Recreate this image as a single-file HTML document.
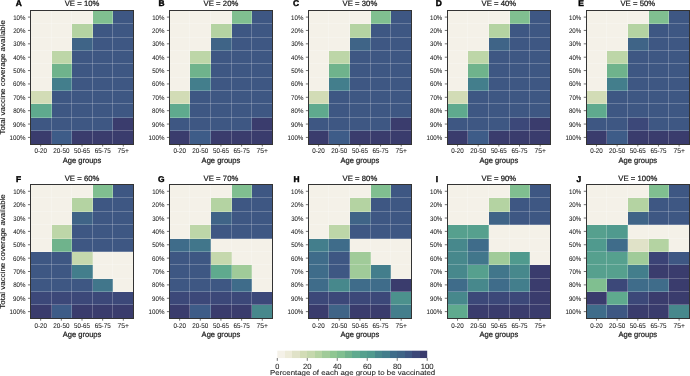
<!DOCTYPE html><html><head><meta charset="utf-8"><style>html,body{margin:0;padding:0;background:#fff;width:690px;height:376px;overflow:hidden}svg{display:block;will-change:transform;text-rendering:geometricPrecision}text{font-family:"Liberation Sans",sans-serif;fill:#1a1a1a;stroke:#1a1a1a;stroke-width:0.14}</style></head><body>
<svg width="690" height="376" viewBox="0 0 690 376">
<g shape-rendering="crispEdges"><rect x="30.50" y="10.50" width="21.00" height="13.00" fill="#f4f1e8"/><rect x="51.50" y="10.50" width="20.00" height="13.00" fill="#f4f1e8"/><rect x="71.50" y="10.50" width="21.00" height="13.00" fill="#f4f1e8"/><rect x="92.50" y="10.50" width="20.00" height="13.00" fill="#80bf90"/><rect x="112.50" y="10.50" width="21.00" height="13.00" fill="#3e5783"/><rect x="30.50" y="23.50" width="21.00" height="14.00" fill="#f4f1e8"/><rect x="51.50" y="23.50" width="20.00" height="14.00" fill="#f4f1e8"/><rect x="71.50" y="23.50" width="21.00" height="14.00" fill="#b4d3a2"/><rect x="92.50" y="23.50" width="20.00" height="14.00" fill="#3e5783"/><rect x="112.50" y="23.50" width="21.00" height="14.00" fill="#3e5783"/><rect x="30.50" y="37.50" width="21.00" height="13.00" fill="#f4f1e8"/><rect x="51.50" y="37.50" width="20.00" height="13.00" fill="#f4f1e8"/><rect x="71.50" y="37.50" width="21.00" height="13.00" fill="#3f6487"/><rect x="92.50" y="37.50" width="20.00" height="13.00" fill="#3e5783"/><rect x="112.50" y="37.50" width="21.00" height="13.00" fill="#3e5783"/><rect x="30.50" y="50.50" width="21.00" height="13.00" fill="#f4f1e8"/><rect x="51.50" y="50.50" width="20.00" height="13.00" fill="#bdd6a8"/><rect x="71.50" y="50.50" width="21.00" height="13.00" fill="#3e5783"/><rect x="92.50" y="50.50" width="20.00" height="13.00" fill="#3e5783"/><rect x="112.50" y="50.50" width="21.00" height="13.00" fill="#3e5783"/><rect x="30.50" y="63.50" width="21.00" height="14.00" fill="#f4f1e8"/><rect x="51.50" y="63.50" width="20.00" height="14.00" fill="#6fb38c"/><rect x="71.50" y="63.50" width="21.00" height="14.00" fill="#3e5783"/><rect x="92.50" y="63.50" width="20.00" height="14.00" fill="#3e5783"/><rect x="112.50" y="63.50" width="21.00" height="14.00" fill="#3e5783"/><rect x="30.50" y="77.50" width="21.00" height="13.00" fill="#f4f1e8"/><rect x="51.50" y="77.50" width="20.00" height="13.00" fill="#437e8c"/><rect x="71.50" y="77.50" width="21.00" height="13.00" fill="#3e5783"/><rect x="92.50" y="77.50" width="20.00" height="13.00" fill="#3e5783"/><rect x="112.50" y="77.50" width="21.00" height="13.00" fill="#3e5783"/><rect x="30.50" y="90.50" width="21.00" height="13.00" fill="#d2dcb6"/><rect x="51.50" y="90.50" width="20.00" height="13.00" fill="#3e5783"/><rect x="71.50" y="90.50" width="21.00" height="13.00" fill="#3e5783"/><rect x="92.50" y="90.50" width="20.00" height="13.00" fill="#3e5783"/><rect x="112.50" y="90.50" width="21.00" height="13.00" fill="#3e5783"/><rect x="30.50" y="103.50" width="21.00" height="14.00" fill="#5faa8e"/><rect x="51.50" y="103.50" width="20.00" height="14.00" fill="#3e5783"/><rect x="71.50" y="103.50" width="21.00" height="14.00" fill="#3e5783"/><rect x="92.50" y="103.50" width="20.00" height="14.00" fill="#3e5783"/><rect x="112.50" y="103.50" width="21.00" height="14.00" fill="#3e5783"/><rect x="30.50" y="117.50" width="21.00" height="13.00" fill="#3e5783"/><rect x="51.50" y="117.50" width="20.00" height="13.00" fill="#3e5783"/><rect x="71.50" y="117.50" width="21.00" height="13.00" fill="#3e5783"/><rect x="92.50" y="117.50" width="20.00" height="13.00" fill="#3e5783"/><rect x="112.50" y="117.50" width="21.00" height="13.00" fill="#3a3c6d"/><rect x="30.50" y="130.50" width="21.00" height="14.00" fill="#3a3c6d"/><rect x="51.50" y="130.50" width="20.00" height="14.00" fill="#3e5c88"/><rect x="71.50" y="130.50" width="21.00" height="14.00" fill="#3a3c6d"/><rect x="92.50" y="130.50" width="20.00" height="14.00" fill="#3a3c6d"/><rect x="112.50" y="130.50" width="21.00" height="14.00" fill="#3a3c6d"/></g>
<path d="M51.50 10.50V144.50M71.50 10.50V144.50M92.50 10.50V144.50M112.50 10.50V144.50M30.50 23.50H133.50M30.50 37.50H133.50M30.50 50.50H133.50M30.50 63.50H133.50M30.50 77.50H133.50M30.50 90.50H133.50M30.50 103.50H133.50M30.50 117.50H133.50M30.50 130.50H133.50" stroke="#fff" stroke-opacity="0.23" stroke-width="1" fill="none"/>
<rect x="30.50" y="10.50" width="103.00" height="134.00" fill="none" stroke="#333" stroke-width="1"/>
<path d="M27.95 17.09H30.35M27.95 30.45H30.35M27.95 43.82H30.35M27.95 57.19H30.35M27.95 70.56H30.35M27.95 83.94H30.35M27.95 97.31H30.35M27.95 110.67H30.35M27.95 124.05H30.35M27.95 137.41H30.35M40.68 144.10V146.50M61.34 144.10V146.50M82.00 144.10V146.50M102.66 144.10V146.50M123.32 144.10V146.50" stroke="#333" stroke-width="0.7" fill="none"/>
<text x="25.45" y="19.59" font-size="6.7" text-anchor="end" textLength="12.27" lengthAdjust="spacingAndGlyphs" style="stroke-width:0.06">10%</text>
<text x="25.45" y="32.95" font-size="6.7" text-anchor="end" textLength="12.30" lengthAdjust="spacingAndGlyphs" style="stroke-width:0.06">20%</text>
<text x="25.45" y="46.32" font-size="6.7" text-anchor="end" textLength="12.21" lengthAdjust="spacingAndGlyphs" style="stroke-width:0.06">30%</text>
<text x="25.45" y="59.69" font-size="6.7" text-anchor="end" textLength="12.26" lengthAdjust="spacingAndGlyphs" style="stroke-width:0.06">40%</text>
<text x="25.45" y="73.06" font-size="6.7" text-anchor="end" textLength="12.21" lengthAdjust="spacingAndGlyphs" style="stroke-width:0.06">50%</text>
<text x="25.45" y="86.44" font-size="6.7" text-anchor="end" textLength="12.33" lengthAdjust="spacingAndGlyphs" style="stroke-width:0.06">60%</text>
<text x="25.45" y="99.81" font-size="6.7" text-anchor="end" textLength="12.26" lengthAdjust="spacingAndGlyphs" style="stroke-width:0.06">70%</text>
<text x="25.45" y="113.17" font-size="6.7" text-anchor="end" textLength="12.29" lengthAdjust="spacingAndGlyphs" style="stroke-width:0.06">80%</text>
<text x="25.45" y="126.55" font-size="6.7" text-anchor="end" textLength="12.34" lengthAdjust="spacingAndGlyphs" style="stroke-width:0.06">90%</text>
<text x="25.45" y="139.91" font-size="6.7" text-anchor="end" textLength="15.83" lengthAdjust="spacingAndGlyphs" style="stroke-width:0.06">100%</text>
<text x="40.68" y="153.45" font-size="6.9" text-anchor="middle" textLength="12.51" lengthAdjust="spacingAndGlyphs" style="stroke-width:0.06">0-20</text>
<text x="61.34" y="153.45" font-size="6.9" text-anchor="middle" textLength="16.11" lengthAdjust="spacingAndGlyphs" style="stroke-width:0.06">20-50</text>
<text x="82.00" y="153.45" font-size="6.9" text-anchor="middle" textLength="15.92" lengthAdjust="spacingAndGlyphs" style="stroke-width:0.06">50-65</text>
<text x="102.66" y="153.45" font-size="6.9" text-anchor="middle" textLength="16.03" lengthAdjust="spacingAndGlyphs" style="stroke-width:0.06">65-75</text>
<text x="123.32" y="153.45" font-size="6.9" text-anchor="middle" textLength="11.46" lengthAdjust="spacingAndGlyphs" style="stroke-width:0.06">75+</text>
<text x="82.00" y="162.70" font-size="7.8" text-anchor="middle" textLength="38.73" lengthAdjust="spacingAndGlyphs" style="stroke-width:0.22">Age groups</text>
<text x="82.00" y="6.30" font-size="7.7" text-anchor="middle" textLength="34.71" lengthAdjust="spacing" style="stroke-width:0.24">VE = 10%</text>
<text x="15.70" y="5.80" font-size="8.4" font-weight="bold" style="fill:#000;stroke:#000;stroke-width:0.45">A</text>
<text x="0.00" y="0.00" font-size="7.2" text-anchor="middle" textLength="114.43" lengthAdjust="spacingAndGlyphs" transform="translate(5.4 77.25) rotate(-90)">Total vaccine coverage available</text>
<g shape-rendering="crispEdges"><rect x="169.50" y="10.50" width="20.00" height="13.00" fill="#f4f1e8"/><rect x="189.50" y="10.50" width="21.00" height="13.00" fill="#f4f1e8"/><rect x="210.50" y="10.50" width="21.00" height="13.00" fill="#f4f1e8"/><rect x="231.50" y="10.50" width="20.00" height="13.00" fill="#80bf90"/><rect x="251.50" y="10.50" width="21.00" height="13.00" fill="#3e5783"/><rect x="169.50" y="23.50" width="20.00" height="14.00" fill="#f4f1e8"/><rect x="189.50" y="23.50" width="21.00" height="14.00" fill="#f4f1e8"/><rect x="210.50" y="23.50" width="21.00" height="14.00" fill="#b4d3a2"/><rect x="231.50" y="23.50" width="20.00" height="14.00" fill="#3e5783"/><rect x="251.50" y="23.50" width="21.00" height="14.00" fill="#3e5783"/><rect x="169.50" y="37.50" width="20.00" height="13.00" fill="#f4f1e8"/><rect x="189.50" y="37.50" width="21.00" height="13.00" fill="#f4f1e8"/><rect x="210.50" y="37.50" width="21.00" height="13.00" fill="#3f6487"/><rect x="231.50" y="37.50" width="20.00" height="13.00" fill="#3e5783"/><rect x="251.50" y="37.50" width="21.00" height="13.00" fill="#3e5783"/><rect x="169.50" y="50.50" width="20.00" height="13.00" fill="#f4f1e8"/><rect x="189.50" y="50.50" width="21.00" height="13.00" fill="#bdd6a8"/><rect x="210.50" y="50.50" width="21.00" height="13.00" fill="#3e5783"/><rect x="231.50" y="50.50" width="20.00" height="13.00" fill="#3e5783"/><rect x="251.50" y="50.50" width="21.00" height="13.00" fill="#3e5783"/><rect x="169.50" y="63.50" width="20.00" height="14.00" fill="#f4f1e8"/><rect x="189.50" y="63.50" width="21.00" height="14.00" fill="#6fb38c"/><rect x="210.50" y="63.50" width="21.00" height="14.00" fill="#3e5783"/><rect x="231.50" y="63.50" width="20.00" height="14.00" fill="#3e5783"/><rect x="251.50" y="63.50" width="21.00" height="14.00" fill="#3e5783"/><rect x="169.50" y="77.50" width="20.00" height="13.00" fill="#f4f1e8"/><rect x="189.50" y="77.50" width="21.00" height="13.00" fill="#437e8c"/><rect x="210.50" y="77.50" width="21.00" height="13.00" fill="#3e5783"/><rect x="231.50" y="77.50" width="20.00" height="13.00" fill="#3e5783"/><rect x="251.50" y="77.50" width="21.00" height="13.00" fill="#3e5783"/><rect x="169.50" y="90.50" width="20.00" height="13.00" fill="#d2dcb6"/><rect x="189.50" y="90.50" width="21.00" height="13.00" fill="#3e5783"/><rect x="210.50" y="90.50" width="21.00" height="13.00" fill="#3e5783"/><rect x="231.50" y="90.50" width="20.00" height="13.00" fill="#3e5783"/><rect x="251.50" y="90.50" width="21.00" height="13.00" fill="#3e5783"/><rect x="169.50" y="103.50" width="20.00" height="14.00" fill="#5faa8e"/><rect x="189.50" y="103.50" width="21.00" height="14.00" fill="#3e5783"/><rect x="210.50" y="103.50" width="21.00" height="14.00" fill="#3e5783"/><rect x="231.50" y="103.50" width="20.00" height="14.00" fill="#3e5783"/><rect x="251.50" y="103.50" width="21.00" height="14.00" fill="#3e5783"/><rect x="169.50" y="117.50" width="20.00" height="13.00" fill="#3e5783"/><rect x="189.50" y="117.50" width="21.00" height="13.00" fill="#3e5783"/><rect x="210.50" y="117.50" width="21.00" height="13.00" fill="#3e5783"/><rect x="231.50" y="117.50" width="20.00" height="13.00" fill="#3e5783"/><rect x="251.50" y="117.50" width="21.00" height="13.00" fill="#3a3c6d"/><rect x="169.50" y="130.50" width="20.00" height="14.00" fill="#3a3c6d"/><rect x="189.50" y="130.50" width="21.00" height="14.00" fill="#3e5c88"/><rect x="210.50" y="130.50" width="21.00" height="14.00" fill="#3a3c6d"/><rect x="231.50" y="130.50" width="20.00" height="14.00" fill="#3a3c6d"/><rect x="251.50" y="130.50" width="21.00" height="14.00" fill="#3a3c6d"/></g>
<path d="M189.50 10.50V144.50M210.50 10.50V144.50M231.50 10.50V144.50M251.50 10.50V144.50M169.50 23.50H272.50M169.50 37.50H272.50M169.50 50.50H272.50M169.50 63.50H272.50M169.50 77.50H272.50M169.50 90.50H272.50M169.50 103.50H272.50M169.50 117.50H272.50M169.50 130.50H272.50" stroke="#fff" stroke-opacity="0.23" stroke-width="1" fill="none"/>
<rect x="169.50" y="10.50" width="103.00" height="134.00" fill="none" stroke="#333" stroke-width="1"/>
<path d="M166.90 17.09H169.30M166.90 30.45H169.30M166.90 43.82H169.30M166.90 57.19H169.30M166.90 70.56H169.30M166.90 83.94H169.30M166.90 97.31H169.30M166.90 110.67H169.30M166.90 124.05H169.30M166.90 137.41H169.30M179.63 144.10V146.50M200.29 144.10V146.50M220.95 144.10V146.50M241.61 144.10V146.50M262.27 144.10V146.50" stroke="#333" stroke-width="0.7" fill="none"/>
<text x="164.40" y="19.59" font-size="6.7" text-anchor="end" textLength="12.27" lengthAdjust="spacingAndGlyphs" style="stroke-width:0.06">10%</text>
<text x="164.40" y="32.95" font-size="6.7" text-anchor="end" textLength="12.30" lengthAdjust="spacingAndGlyphs" style="stroke-width:0.06">20%</text>
<text x="164.40" y="46.32" font-size="6.7" text-anchor="end" textLength="12.21" lengthAdjust="spacingAndGlyphs" style="stroke-width:0.06">30%</text>
<text x="164.40" y="59.69" font-size="6.7" text-anchor="end" textLength="12.26" lengthAdjust="spacingAndGlyphs" style="stroke-width:0.06">40%</text>
<text x="164.40" y="73.06" font-size="6.7" text-anchor="end" textLength="12.21" lengthAdjust="spacingAndGlyphs" style="stroke-width:0.06">50%</text>
<text x="164.40" y="86.44" font-size="6.7" text-anchor="end" textLength="12.33" lengthAdjust="spacingAndGlyphs" style="stroke-width:0.06">60%</text>
<text x="164.40" y="99.81" font-size="6.7" text-anchor="end" textLength="12.26" lengthAdjust="spacingAndGlyphs" style="stroke-width:0.06">70%</text>
<text x="164.40" y="113.17" font-size="6.7" text-anchor="end" textLength="12.29" lengthAdjust="spacingAndGlyphs" style="stroke-width:0.06">80%</text>
<text x="164.40" y="126.55" font-size="6.7" text-anchor="end" textLength="12.34" lengthAdjust="spacingAndGlyphs" style="stroke-width:0.06">90%</text>
<text x="164.40" y="139.91" font-size="6.7" text-anchor="end" textLength="15.83" lengthAdjust="spacingAndGlyphs" style="stroke-width:0.06">100%</text>
<text x="179.63" y="153.45" font-size="6.9" text-anchor="middle" textLength="12.51" lengthAdjust="spacingAndGlyphs" style="stroke-width:0.06">0-20</text>
<text x="200.29" y="153.45" font-size="6.9" text-anchor="middle" textLength="16.11" lengthAdjust="spacingAndGlyphs" style="stroke-width:0.06">20-50</text>
<text x="220.95" y="153.45" font-size="6.9" text-anchor="middle" textLength="15.92" lengthAdjust="spacingAndGlyphs" style="stroke-width:0.06">50-65</text>
<text x="241.61" y="153.45" font-size="6.9" text-anchor="middle" textLength="16.03" lengthAdjust="spacingAndGlyphs" style="stroke-width:0.06">65-75</text>
<text x="262.27" y="153.45" font-size="6.9" text-anchor="middle" textLength="11.46" lengthAdjust="spacingAndGlyphs" style="stroke-width:0.06">75+</text>
<text x="220.95" y="162.70" font-size="7.8" text-anchor="middle" textLength="38.73" lengthAdjust="spacingAndGlyphs" style="stroke-width:0.22">Age groups</text>
<text x="220.95" y="6.30" font-size="7.7" text-anchor="middle" textLength="34.71" lengthAdjust="spacing" style="stroke-width:0.24">VE = 20%</text>
<text x="158.60" y="5.80" font-size="8.4" font-weight="bold" style="fill:#000;stroke:#000;stroke-width:0.45">B</text>
<g shape-rendering="crispEdges"><rect x="308.50" y="10.50" width="20.00" height="13.00" fill="#f4f1e8"/><rect x="328.50" y="10.50" width="21.00" height="13.00" fill="#f4f1e8"/><rect x="349.50" y="10.50" width="21.00" height="13.00" fill="#f4f1e8"/><rect x="370.50" y="10.50" width="20.00" height="13.00" fill="#80bf90"/><rect x="390.50" y="10.50" width="21.00" height="13.00" fill="#3e5783"/><rect x="308.50" y="23.50" width="20.00" height="14.00" fill="#f4f1e8"/><rect x="328.50" y="23.50" width="21.00" height="14.00" fill="#f4f1e8"/><rect x="349.50" y="23.50" width="21.00" height="14.00" fill="#b4d3a2"/><rect x="370.50" y="23.50" width="20.00" height="14.00" fill="#3e5783"/><rect x="390.50" y="23.50" width="21.00" height="14.00" fill="#3e5783"/><rect x="308.50" y="37.50" width="20.00" height="13.00" fill="#f4f1e8"/><rect x="328.50" y="37.50" width="21.00" height="13.00" fill="#f4f1e8"/><rect x="349.50" y="37.50" width="21.00" height="13.00" fill="#3f6487"/><rect x="370.50" y="37.50" width="20.00" height="13.00" fill="#3e5783"/><rect x="390.50" y="37.50" width="21.00" height="13.00" fill="#3e5783"/><rect x="308.50" y="50.50" width="20.00" height="13.00" fill="#f4f1e8"/><rect x="328.50" y="50.50" width="21.00" height="13.00" fill="#bdd6a8"/><rect x="349.50" y="50.50" width="21.00" height="13.00" fill="#3e5783"/><rect x="370.50" y="50.50" width="20.00" height="13.00" fill="#3e5783"/><rect x="390.50" y="50.50" width="21.00" height="13.00" fill="#3e5783"/><rect x="308.50" y="63.50" width="20.00" height="14.00" fill="#f4f1e8"/><rect x="328.50" y="63.50" width="21.00" height="14.00" fill="#6fb38c"/><rect x="349.50" y="63.50" width="21.00" height="14.00" fill="#3e5783"/><rect x="370.50" y="63.50" width="20.00" height="14.00" fill="#3e5783"/><rect x="390.50" y="63.50" width="21.00" height="14.00" fill="#3e5783"/><rect x="308.50" y="77.50" width="20.00" height="13.00" fill="#f4f1e8"/><rect x="328.50" y="77.50" width="21.00" height="13.00" fill="#437e8c"/><rect x="349.50" y="77.50" width="21.00" height="13.00" fill="#3e5783"/><rect x="370.50" y="77.50" width="20.00" height="13.00" fill="#3e5783"/><rect x="390.50" y="77.50" width="21.00" height="13.00" fill="#3e5783"/><rect x="308.50" y="90.50" width="20.00" height="13.00" fill="#d2dcb6"/><rect x="328.50" y="90.50" width="21.00" height="13.00" fill="#3e5783"/><rect x="349.50" y="90.50" width="21.00" height="13.00" fill="#3e5783"/><rect x="370.50" y="90.50" width="20.00" height="13.00" fill="#3e5783"/><rect x="390.50" y="90.50" width="21.00" height="13.00" fill="#3e5783"/><rect x="308.50" y="103.50" width="20.00" height="14.00" fill="#5faa8e"/><rect x="328.50" y="103.50" width="21.00" height="14.00" fill="#3e5783"/><rect x="349.50" y="103.50" width="21.00" height="14.00" fill="#3e5783"/><rect x="370.50" y="103.50" width="20.00" height="14.00" fill="#3e5783"/><rect x="390.50" y="103.50" width="21.00" height="14.00" fill="#3e5783"/><rect x="308.50" y="117.50" width="20.00" height="13.00" fill="#3e5783"/><rect x="328.50" y="117.50" width="21.00" height="13.00" fill="#3e5783"/><rect x="349.50" y="117.50" width="21.00" height="13.00" fill="#3e5783"/><rect x="370.50" y="117.50" width="20.00" height="13.00" fill="#3e5783"/><rect x="390.50" y="117.50" width="21.00" height="13.00" fill="#3a3c6d"/><rect x="308.50" y="130.50" width="20.00" height="14.00" fill="#3a3c6d"/><rect x="328.50" y="130.50" width="21.00" height="14.00" fill="#3e5c88"/><rect x="349.50" y="130.50" width="21.00" height="14.00" fill="#3a3c6d"/><rect x="370.50" y="130.50" width="20.00" height="14.00" fill="#3a3c6d"/><rect x="390.50" y="130.50" width="21.00" height="14.00" fill="#3a3c6d"/></g>
<path d="M328.50 10.50V144.50M349.50 10.50V144.50M370.50 10.50V144.50M390.50 10.50V144.50M308.50 23.50H411.50M308.50 37.50H411.50M308.50 50.50H411.50M308.50 63.50H411.50M308.50 77.50H411.50M308.50 90.50H411.50M308.50 103.50H411.50M308.50 117.50H411.50M308.50 130.50H411.50" stroke="#fff" stroke-opacity="0.23" stroke-width="1" fill="none"/>
<rect x="308.50" y="10.50" width="103.00" height="134.00" fill="none" stroke="#333" stroke-width="1"/>
<path d="M305.85 17.09H308.25M305.85 30.45H308.25M305.85 43.82H308.25M305.85 57.19H308.25M305.85 70.56H308.25M305.85 83.94H308.25M305.85 97.31H308.25M305.85 110.67H308.25M305.85 124.05H308.25M305.85 137.41H308.25M318.58 144.10V146.50M339.24 144.10V146.50M359.90 144.10V146.50M380.56 144.10V146.50M401.22 144.10V146.50" stroke="#333" stroke-width="0.7" fill="none"/>
<text x="303.35" y="19.59" font-size="6.7" text-anchor="end" textLength="12.27" lengthAdjust="spacingAndGlyphs" style="stroke-width:0.06">10%</text>
<text x="303.35" y="32.95" font-size="6.7" text-anchor="end" textLength="12.30" lengthAdjust="spacingAndGlyphs" style="stroke-width:0.06">20%</text>
<text x="303.35" y="46.32" font-size="6.7" text-anchor="end" textLength="12.21" lengthAdjust="spacingAndGlyphs" style="stroke-width:0.06">30%</text>
<text x="303.35" y="59.69" font-size="6.7" text-anchor="end" textLength="12.26" lengthAdjust="spacingAndGlyphs" style="stroke-width:0.06">40%</text>
<text x="303.35" y="73.06" font-size="6.7" text-anchor="end" textLength="12.21" lengthAdjust="spacingAndGlyphs" style="stroke-width:0.06">50%</text>
<text x="303.35" y="86.44" font-size="6.7" text-anchor="end" textLength="12.33" lengthAdjust="spacingAndGlyphs" style="stroke-width:0.06">60%</text>
<text x="303.35" y="99.81" font-size="6.7" text-anchor="end" textLength="12.26" lengthAdjust="spacingAndGlyphs" style="stroke-width:0.06">70%</text>
<text x="303.35" y="113.17" font-size="6.7" text-anchor="end" textLength="12.29" lengthAdjust="spacingAndGlyphs" style="stroke-width:0.06">80%</text>
<text x="303.35" y="126.55" font-size="6.7" text-anchor="end" textLength="12.34" lengthAdjust="spacingAndGlyphs" style="stroke-width:0.06">90%</text>
<text x="303.35" y="139.91" font-size="6.7" text-anchor="end" textLength="15.83" lengthAdjust="spacingAndGlyphs" style="stroke-width:0.06">100%</text>
<text x="318.58" y="153.45" font-size="6.9" text-anchor="middle" textLength="12.51" lengthAdjust="spacingAndGlyphs" style="stroke-width:0.06">0-20</text>
<text x="339.24" y="153.45" font-size="6.9" text-anchor="middle" textLength="16.11" lengthAdjust="spacingAndGlyphs" style="stroke-width:0.06">20-50</text>
<text x="359.90" y="153.45" font-size="6.9" text-anchor="middle" textLength="15.92" lengthAdjust="spacingAndGlyphs" style="stroke-width:0.06">50-65</text>
<text x="380.56" y="153.45" font-size="6.9" text-anchor="middle" textLength="16.03" lengthAdjust="spacingAndGlyphs" style="stroke-width:0.06">65-75</text>
<text x="401.22" y="153.45" font-size="6.9" text-anchor="middle" textLength="11.46" lengthAdjust="spacingAndGlyphs" style="stroke-width:0.06">75+</text>
<text x="359.90" y="162.70" font-size="7.8" text-anchor="middle" textLength="38.73" lengthAdjust="spacingAndGlyphs" style="stroke-width:0.22">Age groups</text>
<text x="359.90" y="6.30" font-size="7.7" text-anchor="middle" textLength="34.71" lengthAdjust="spacing" style="stroke-width:0.24">VE = 30%</text>
<text x="293.00" y="5.80" font-size="8.4" font-weight="bold" style="fill:#000;stroke:#000;stroke-width:0.45">C</text>
<g shape-rendering="crispEdges"><rect x="447.50" y="10.50" width="20.00" height="13.00" fill="#f4f1e8"/><rect x="467.50" y="10.50" width="21.00" height="13.00" fill="#f4f1e8"/><rect x="488.50" y="10.50" width="21.00" height="13.00" fill="#f4f1e8"/><rect x="509.50" y="10.50" width="20.00" height="13.00" fill="#80bf90"/><rect x="529.50" y="10.50" width="21.00" height="13.00" fill="#3e5783"/><rect x="447.50" y="23.50" width="20.00" height="14.00" fill="#f4f1e8"/><rect x="467.50" y="23.50" width="21.00" height="14.00" fill="#f4f1e8"/><rect x="488.50" y="23.50" width="21.00" height="14.00" fill="#b4d3a2"/><rect x="509.50" y="23.50" width="20.00" height="14.00" fill="#3e5783"/><rect x="529.50" y="23.50" width="21.00" height="14.00" fill="#3e5783"/><rect x="447.50" y="37.50" width="20.00" height="13.00" fill="#f4f1e8"/><rect x="467.50" y="37.50" width="21.00" height="13.00" fill="#f4f1e8"/><rect x="488.50" y="37.50" width="21.00" height="13.00" fill="#3f6487"/><rect x="509.50" y="37.50" width="20.00" height="13.00" fill="#3e5783"/><rect x="529.50" y="37.50" width="21.00" height="13.00" fill="#3e5783"/><rect x="447.50" y="50.50" width="20.00" height="13.00" fill="#f4f1e8"/><rect x="467.50" y="50.50" width="21.00" height="13.00" fill="#bdd6a8"/><rect x="488.50" y="50.50" width="21.00" height="13.00" fill="#3e5783"/><rect x="509.50" y="50.50" width="20.00" height="13.00" fill="#3e5783"/><rect x="529.50" y="50.50" width="21.00" height="13.00" fill="#3e5783"/><rect x="447.50" y="63.50" width="20.00" height="14.00" fill="#f4f1e8"/><rect x="467.50" y="63.50" width="21.00" height="14.00" fill="#6fb38c"/><rect x="488.50" y="63.50" width="21.00" height="14.00" fill="#3e5783"/><rect x="509.50" y="63.50" width="20.00" height="14.00" fill="#3e5783"/><rect x="529.50" y="63.50" width="21.00" height="14.00" fill="#3e5783"/><rect x="447.50" y="77.50" width="20.00" height="13.00" fill="#f4f1e8"/><rect x="467.50" y="77.50" width="21.00" height="13.00" fill="#437e8c"/><rect x="488.50" y="77.50" width="21.00" height="13.00" fill="#3e5783"/><rect x="509.50" y="77.50" width="20.00" height="13.00" fill="#3e5783"/><rect x="529.50" y="77.50" width="21.00" height="13.00" fill="#3e5783"/><rect x="447.50" y="90.50" width="20.00" height="13.00" fill="#d2dcb6"/><rect x="467.50" y="90.50" width="21.00" height="13.00" fill="#3e5783"/><rect x="488.50" y="90.50" width="21.00" height="13.00" fill="#3e5783"/><rect x="509.50" y="90.50" width="20.00" height="13.00" fill="#3e5783"/><rect x="529.50" y="90.50" width="21.00" height="13.00" fill="#3e5783"/><rect x="447.50" y="103.50" width="20.00" height="14.00" fill="#5faa8e"/><rect x="467.50" y="103.50" width="21.00" height="14.00" fill="#3e5783"/><rect x="488.50" y="103.50" width="21.00" height="14.00" fill="#3e5783"/><rect x="509.50" y="103.50" width="20.00" height="14.00" fill="#3e5783"/><rect x="529.50" y="103.50" width="21.00" height="14.00" fill="#3e5783"/><rect x="447.50" y="117.50" width="20.00" height="13.00" fill="#3e5783"/><rect x="467.50" y="117.50" width="21.00" height="13.00" fill="#3e5783"/><rect x="488.50" y="117.50" width="21.00" height="13.00" fill="#3e5783"/><rect x="509.50" y="117.50" width="20.00" height="13.00" fill="#3c4879"/><rect x="529.50" y="117.50" width="21.00" height="13.00" fill="#3a3c6d"/><rect x="447.50" y="130.50" width="20.00" height="14.00" fill="#3a3c6d"/><rect x="467.50" y="130.50" width="21.00" height="14.00" fill="#3e5c88"/><rect x="488.50" y="130.50" width="21.00" height="14.00" fill="#3a3c6d"/><rect x="509.50" y="130.50" width="20.00" height="14.00" fill="#3a3c6d"/><rect x="529.50" y="130.50" width="21.00" height="14.00" fill="#3a3c6d"/></g>
<path d="M467.50 10.50V144.50M488.50 10.50V144.50M509.50 10.50V144.50M529.50 10.50V144.50M447.50 23.50H550.50M447.50 37.50H550.50M447.50 50.50H550.50M447.50 63.50H550.50M447.50 77.50H550.50M447.50 90.50H550.50M447.50 103.50H550.50M447.50 117.50H550.50M447.50 130.50H550.50" stroke="#fff" stroke-opacity="0.23" stroke-width="1" fill="none"/>
<rect x="447.50" y="10.50" width="103.00" height="134.00" fill="none" stroke="#333" stroke-width="1"/>
<path d="M444.80 17.09H447.20M444.80 30.45H447.20M444.80 43.82H447.20M444.80 57.19H447.20M444.80 70.56H447.20M444.80 83.94H447.20M444.80 97.31H447.20M444.80 110.67H447.20M444.80 124.05H447.20M444.80 137.41H447.20M457.53 144.10V146.50M478.19 144.10V146.50M498.85 144.10V146.50M519.51 144.10V146.50M540.17 144.10V146.50" stroke="#333" stroke-width="0.7" fill="none"/>
<text x="442.30" y="19.59" font-size="6.7" text-anchor="end" textLength="12.27" lengthAdjust="spacingAndGlyphs" style="stroke-width:0.06">10%</text>
<text x="442.30" y="32.95" font-size="6.7" text-anchor="end" textLength="12.30" lengthAdjust="spacingAndGlyphs" style="stroke-width:0.06">20%</text>
<text x="442.30" y="46.32" font-size="6.7" text-anchor="end" textLength="12.21" lengthAdjust="spacingAndGlyphs" style="stroke-width:0.06">30%</text>
<text x="442.30" y="59.69" font-size="6.7" text-anchor="end" textLength="12.26" lengthAdjust="spacingAndGlyphs" style="stroke-width:0.06">40%</text>
<text x="442.30" y="73.06" font-size="6.7" text-anchor="end" textLength="12.21" lengthAdjust="spacingAndGlyphs" style="stroke-width:0.06">50%</text>
<text x="442.30" y="86.44" font-size="6.7" text-anchor="end" textLength="12.33" lengthAdjust="spacingAndGlyphs" style="stroke-width:0.06">60%</text>
<text x="442.30" y="99.81" font-size="6.7" text-anchor="end" textLength="12.26" lengthAdjust="spacingAndGlyphs" style="stroke-width:0.06">70%</text>
<text x="442.30" y="113.17" font-size="6.7" text-anchor="end" textLength="12.29" lengthAdjust="spacingAndGlyphs" style="stroke-width:0.06">80%</text>
<text x="442.30" y="126.55" font-size="6.7" text-anchor="end" textLength="12.34" lengthAdjust="spacingAndGlyphs" style="stroke-width:0.06">90%</text>
<text x="442.30" y="139.91" font-size="6.7" text-anchor="end" textLength="15.83" lengthAdjust="spacingAndGlyphs" style="stroke-width:0.06">100%</text>
<text x="457.53" y="153.45" font-size="6.9" text-anchor="middle" textLength="12.51" lengthAdjust="spacingAndGlyphs" style="stroke-width:0.06">0-20</text>
<text x="478.19" y="153.45" font-size="6.9" text-anchor="middle" textLength="16.11" lengthAdjust="spacingAndGlyphs" style="stroke-width:0.06">20-50</text>
<text x="498.85" y="153.45" font-size="6.9" text-anchor="middle" textLength="15.92" lengthAdjust="spacingAndGlyphs" style="stroke-width:0.06">50-65</text>
<text x="519.51" y="153.45" font-size="6.9" text-anchor="middle" textLength="16.03" lengthAdjust="spacingAndGlyphs" style="stroke-width:0.06">65-75</text>
<text x="540.17" y="153.45" font-size="6.9" text-anchor="middle" textLength="11.46" lengthAdjust="spacingAndGlyphs" style="stroke-width:0.06">75+</text>
<text x="498.85" y="162.70" font-size="7.8" text-anchor="middle" textLength="38.73" lengthAdjust="spacingAndGlyphs" style="stroke-width:0.22">Age groups</text>
<text x="498.85" y="6.30" font-size="7.7" text-anchor="middle" textLength="34.71" lengthAdjust="spacing" style="stroke-width:0.24">VE = 40%</text>
<text x="435.70" y="5.80" font-size="8.4" font-weight="bold" style="fill:#000;stroke:#000;stroke-width:0.45">D</text>
<g shape-rendering="crispEdges"><rect x="586.50" y="10.50" width="20.00" height="13.00" fill="#f4f1e8"/><rect x="606.50" y="10.50" width="21.00" height="13.00" fill="#f4f1e8"/><rect x="627.50" y="10.50" width="21.00" height="13.00" fill="#f4f1e8"/><rect x="648.50" y="10.50" width="20.00" height="13.00" fill="#80bf90"/><rect x="668.50" y="10.50" width="21.00" height="13.00" fill="#3e5783"/><rect x="586.50" y="23.50" width="20.00" height="14.00" fill="#f4f1e8"/><rect x="606.50" y="23.50" width="21.00" height="14.00" fill="#f4f1e8"/><rect x="627.50" y="23.50" width="21.00" height="14.00" fill="#b4d3a2"/><rect x="648.50" y="23.50" width="20.00" height="14.00" fill="#3e5783"/><rect x="668.50" y="23.50" width="21.00" height="14.00" fill="#3e5783"/><rect x="586.50" y="37.50" width="20.00" height="13.00" fill="#f4f1e8"/><rect x="606.50" y="37.50" width="21.00" height="13.00" fill="#f4f1e8"/><rect x="627.50" y="37.50" width="21.00" height="13.00" fill="#3f6487"/><rect x="648.50" y="37.50" width="20.00" height="13.00" fill="#3e5783"/><rect x="668.50" y="37.50" width="21.00" height="13.00" fill="#3e5783"/><rect x="586.50" y="50.50" width="20.00" height="13.00" fill="#f4f1e8"/><rect x="606.50" y="50.50" width="21.00" height="13.00" fill="#bdd6a8"/><rect x="627.50" y="50.50" width="21.00" height="13.00" fill="#3e5783"/><rect x="648.50" y="50.50" width="20.00" height="13.00" fill="#3e5783"/><rect x="668.50" y="50.50" width="21.00" height="13.00" fill="#3e5783"/><rect x="586.50" y="63.50" width="20.00" height="14.00" fill="#f4f1e8"/><rect x="606.50" y="63.50" width="21.00" height="14.00" fill="#6fb38c"/><rect x="627.50" y="63.50" width="21.00" height="14.00" fill="#3e5783"/><rect x="648.50" y="63.50" width="20.00" height="14.00" fill="#3e5783"/><rect x="668.50" y="63.50" width="21.00" height="14.00" fill="#3e5783"/><rect x="586.50" y="77.50" width="20.00" height="13.00" fill="#f4f1e8"/><rect x="606.50" y="77.50" width="21.00" height="13.00" fill="#437e8c"/><rect x="627.50" y="77.50" width="21.00" height="13.00" fill="#3e5783"/><rect x="648.50" y="77.50" width="20.00" height="13.00" fill="#3e5783"/><rect x="668.50" y="77.50" width="21.00" height="13.00" fill="#3e5783"/><rect x="586.50" y="90.50" width="20.00" height="13.00" fill="#d2dcb6"/><rect x="606.50" y="90.50" width="21.00" height="13.00" fill="#3e5783"/><rect x="627.50" y="90.50" width="21.00" height="13.00" fill="#3e5783"/><rect x="648.50" y="90.50" width="20.00" height="13.00" fill="#3e5783"/><rect x="668.50" y="90.50" width="21.00" height="13.00" fill="#3e5783"/><rect x="586.50" y="103.50" width="20.00" height="14.00" fill="#5faa8e"/><rect x="606.50" y="103.50" width="21.00" height="14.00" fill="#3e5783"/><rect x="627.50" y="103.50" width="21.00" height="14.00" fill="#3e5783"/><rect x="648.50" y="103.50" width="20.00" height="14.00" fill="#3e5783"/><rect x="668.50" y="103.50" width="21.00" height="14.00" fill="#3e5783"/><rect x="586.50" y="117.50" width="20.00" height="13.00" fill="#3e5783"/><rect x="606.50" y="117.50" width="21.00" height="13.00" fill="#3e5783"/><rect x="627.50" y="117.50" width="21.00" height="13.00" fill="#3c4879"/><rect x="648.50" y="117.50" width="20.00" height="13.00" fill="#3e5783"/><rect x="668.50" y="117.50" width="21.00" height="13.00" fill="#3e5783"/><rect x="586.50" y="130.50" width="20.00" height="14.00" fill="#3a3c6d"/><rect x="606.50" y="130.50" width="21.00" height="14.00" fill="#3e5c88"/><rect x="627.50" y="130.50" width="21.00" height="14.00" fill="#3a3c6d"/><rect x="648.50" y="130.50" width="20.00" height="14.00" fill="#3a3c6d"/><rect x="668.50" y="130.50" width="21.00" height="14.00" fill="#3a3c6d"/></g>
<path d="M606.50 10.50V144.50M627.50 10.50V144.50M648.50 10.50V144.50M668.50 10.50V144.50M586.50 23.50H689.50M586.50 37.50H689.50M586.50 50.50H689.50M586.50 63.50H689.50M586.50 77.50H689.50M586.50 90.50H689.50M586.50 103.50H689.50M586.50 117.50H689.50M586.50 130.50H689.50" stroke="#fff" stroke-opacity="0.23" stroke-width="1" fill="none"/>
<rect x="586.50" y="10.50" width="103.00" height="134.00" fill="none" stroke="#333" stroke-width="1"/>
<path d="M583.75 17.09H586.15M583.75 30.45H586.15M583.75 43.82H586.15M583.75 57.19H586.15M583.75 70.56H586.15M583.75 83.94H586.15M583.75 97.31H586.15M583.75 110.67H586.15M583.75 124.05H586.15M583.75 137.41H586.15M596.48 144.10V146.50M617.14 144.10V146.50M637.80 144.10V146.50M658.46 144.10V146.50M679.12 144.10V146.50" stroke="#333" stroke-width="0.7" fill="none"/>
<text x="581.25" y="19.59" font-size="6.7" text-anchor="end" textLength="12.27" lengthAdjust="spacingAndGlyphs" style="stroke-width:0.06">10%</text>
<text x="581.25" y="32.95" font-size="6.7" text-anchor="end" textLength="12.30" lengthAdjust="spacingAndGlyphs" style="stroke-width:0.06">20%</text>
<text x="581.25" y="46.32" font-size="6.7" text-anchor="end" textLength="12.21" lengthAdjust="spacingAndGlyphs" style="stroke-width:0.06">30%</text>
<text x="581.25" y="59.69" font-size="6.7" text-anchor="end" textLength="12.26" lengthAdjust="spacingAndGlyphs" style="stroke-width:0.06">40%</text>
<text x="581.25" y="73.06" font-size="6.7" text-anchor="end" textLength="12.21" lengthAdjust="spacingAndGlyphs" style="stroke-width:0.06">50%</text>
<text x="581.25" y="86.44" font-size="6.7" text-anchor="end" textLength="12.33" lengthAdjust="spacingAndGlyphs" style="stroke-width:0.06">60%</text>
<text x="581.25" y="99.81" font-size="6.7" text-anchor="end" textLength="12.26" lengthAdjust="spacingAndGlyphs" style="stroke-width:0.06">70%</text>
<text x="581.25" y="113.17" font-size="6.7" text-anchor="end" textLength="12.29" lengthAdjust="spacingAndGlyphs" style="stroke-width:0.06">80%</text>
<text x="581.25" y="126.55" font-size="6.7" text-anchor="end" textLength="12.34" lengthAdjust="spacingAndGlyphs" style="stroke-width:0.06">90%</text>
<text x="581.25" y="139.91" font-size="6.7" text-anchor="end" textLength="15.83" lengthAdjust="spacingAndGlyphs" style="stroke-width:0.06">100%</text>
<text x="596.48" y="153.45" font-size="6.9" text-anchor="middle" textLength="12.51" lengthAdjust="spacingAndGlyphs" style="stroke-width:0.06">0-20</text>
<text x="617.14" y="153.45" font-size="6.9" text-anchor="middle" textLength="16.11" lengthAdjust="spacingAndGlyphs" style="stroke-width:0.06">20-50</text>
<text x="637.80" y="153.45" font-size="6.9" text-anchor="middle" textLength="15.92" lengthAdjust="spacingAndGlyphs" style="stroke-width:0.06">50-65</text>
<text x="658.46" y="153.45" font-size="6.9" text-anchor="middle" textLength="16.03" lengthAdjust="spacingAndGlyphs" style="stroke-width:0.06">65-75</text>
<text x="679.12" y="153.45" font-size="6.9" text-anchor="middle" textLength="11.46" lengthAdjust="spacingAndGlyphs" style="stroke-width:0.06">75+</text>
<text x="637.80" y="162.70" font-size="7.8" text-anchor="middle" textLength="38.73" lengthAdjust="spacingAndGlyphs" style="stroke-width:0.22">Age groups</text>
<text x="637.80" y="6.30" font-size="7.7" text-anchor="middle" textLength="34.71" lengthAdjust="spacing" style="stroke-width:0.24">VE = 50%</text>
<text x="578.20" y="5.80" font-size="8.4" font-weight="bold" style="fill:#000;stroke:#000;stroke-width:0.45">E</text>
<g shape-rendering="crispEdges"><rect x="30.50" y="184.50" width="21.00" height="13.00" fill="#f4f1e8"/><rect x="51.50" y="184.50" width="20.00" height="13.00" fill="#f4f1e8"/><rect x="71.50" y="184.50" width="21.00" height="13.00" fill="#f4f1e8"/><rect x="92.50" y="184.50" width="20.00" height="13.00" fill="#80bf90"/><rect x="112.50" y="184.50" width="21.00" height="13.00" fill="#3e5783"/><rect x="30.50" y="197.50" width="21.00" height="14.00" fill="#f4f1e8"/><rect x="51.50" y="197.50" width="20.00" height="14.00" fill="#f4f1e8"/><rect x="71.50" y="197.50" width="21.00" height="14.00" fill="#b4d3a2"/><rect x="92.50" y="197.50" width="20.00" height="14.00" fill="#3e5783"/><rect x="112.50" y="197.50" width="21.00" height="14.00" fill="#3e5783"/><rect x="30.50" y="211.50" width="21.00" height="13.00" fill="#f4f1e8"/><rect x="51.50" y="211.50" width="20.00" height="13.00" fill="#f4f1e8"/><rect x="71.50" y="211.50" width="21.00" height="13.00" fill="#3f6487"/><rect x="92.50" y="211.50" width="20.00" height="13.00" fill="#3e5783"/><rect x="112.50" y="211.50" width="21.00" height="13.00" fill="#3e5783"/><rect x="30.50" y="224.50" width="21.00" height="14.00" fill="#f4f1e8"/><rect x="51.50" y="224.50" width="20.00" height="14.00" fill="#bdd6a8"/><rect x="71.50" y="224.50" width="21.00" height="14.00" fill="#3e5783"/><rect x="92.50" y="224.50" width="20.00" height="14.00" fill="#3e5783"/><rect x="112.50" y="224.50" width="21.00" height="14.00" fill="#3e5783"/><rect x="30.50" y="238.50" width="21.00" height="13.00" fill="#f4f1e8"/><rect x="51.50" y="238.50" width="20.00" height="13.00" fill="#6fb38c"/><rect x="71.50" y="238.50" width="21.00" height="13.00" fill="#3e5783"/><rect x="92.50" y="238.50" width="20.00" height="13.00" fill="#3e5783"/><rect x="112.50" y="238.50" width="21.00" height="13.00" fill="#3e5783"/><rect x="30.50" y="251.50" width="21.00" height="13.00" fill="#3e5783"/><rect x="51.50" y="251.50" width="20.00" height="13.00" fill="#3e5783"/><rect x="71.50" y="251.50" width="21.00" height="13.00" fill="#c5d8ad"/><rect x="92.50" y="251.50" width="20.00" height="13.00" fill="#f4f1e8"/><rect x="112.50" y="251.50" width="21.00" height="13.00" fill="#f4f1e8"/><rect x="30.50" y="264.50" width="21.00" height="14.00" fill="#3e5783"/><rect x="51.50" y="264.50" width="20.00" height="14.00" fill="#3e5783"/><rect x="71.50" y="264.50" width="21.00" height="14.00" fill="#437e8c"/><rect x="92.50" y="264.50" width="20.00" height="14.00" fill="#f4f1e8"/><rect x="112.50" y="264.50" width="21.00" height="14.00" fill="#f4f1e8"/><rect x="30.50" y="278.50" width="21.00" height="13.00" fill="#3e5783"/><rect x="51.50" y="278.50" width="20.00" height="13.00" fill="#3e5783"/><rect x="71.50" y="278.50" width="21.00" height="13.00" fill="#3e5783"/><rect x="92.50" y="278.50" width="20.00" height="13.00" fill="#41768b"/><rect x="112.50" y="278.50" width="21.00" height="13.00" fill="#f4f1e8"/><rect x="30.50" y="291.50" width="21.00" height="13.00" fill="#3c4879"/><rect x="51.50" y="291.50" width="20.00" height="13.00" fill="#3c4879"/><rect x="71.50" y="291.50" width="21.00" height="13.00" fill="#3c4879"/><rect x="92.50" y="291.50" width="20.00" height="13.00" fill="#3c4879"/><rect x="112.50" y="291.50" width="21.00" height="13.00" fill="#3c4879"/><rect x="30.50" y="304.50" width="21.00" height="14.00" fill="#3a3c6d"/><rect x="51.50" y="304.50" width="20.00" height="14.00" fill="#3e5c88"/><rect x="71.50" y="304.50" width="21.00" height="14.00" fill="#3a3c6d"/><rect x="92.50" y="304.50" width="20.00" height="14.00" fill="#3a3c6d"/><rect x="112.50" y="304.50" width="21.00" height="14.00" fill="#3a3c6d"/></g>
<path d="M51.50 184.50V318.50M71.50 184.50V318.50M92.50 184.50V318.50M112.50 184.50V318.50M30.50 197.50H133.50M30.50 211.50H133.50M30.50 224.50H133.50M30.50 238.50H133.50M30.50 251.50H133.50M30.50 264.50H133.50M30.50 278.50H133.50M30.50 291.50H133.50M30.50 304.50H133.50" stroke="#fff" stroke-opacity="0.23" stroke-width="1" fill="none"/>
<rect x="30.50" y="184.50" width="103.00" height="134.00" fill="none" stroke="#333" stroke-width="1"/>
<path d="M27.95 191.28H30.35M27.95 204.66H30.35M27.95 218.02H30.35M27.95 231.39H30.35M27.95 244.76H30.35M27.95 258.13H30.35M27.95 271.50H30.35M27.95 284.88H30.35M27.95 298.25H30.35M27.95 311.62H30.35M40.68 318.30V320.70M61.34 318.30V320.70M82.00 318.30V320.70M102.66 318.30V320.70M123.32 318.30V320.70" stroke="#333" stroke-width="0.7" fill="none"/>
<text x="25.45" y="193.78" font-size="6.7" text-anchor="end" textLength="12.27" lengthAdjust="spacingAndGlyphs" style="stroke-width:0.06">10%</text>
<text x="25.45" y="207.16" font-size="6.7" text-anchor="end" textLength="12.30" lengthAdjust="spacingAndGlyphs" style="stroke-width:0.06">20%</text>
<text x="25.45" y="220.52" font-size="6.7" text-anchor="end" textLength="12.21" lengthAdjust="spacingAndGlyphs" style="stroke-width:0.06">30%</text>
<text x="25.45" y="233.89" font-size="6.7" text-anchor="end" textLength="12.26" lengthAdjust="spacingAndGlyphs" style="stroke-width:0.06">40%</text>
<text x="25.45" y="247.26" font-size="6.7" text-anchor="end" textLength="12.21" lengthAdjust="spacingAndGlyphs" style="stroke-width:0.06">50%</text>
<text x="25.45" y="260.63" font-size="6.7" text-anchor="end" textLength="12.33" lengthAdjust="spacingAndGlyphs" style="stroke-width:0.06">60%</text>
<text x="25.45" y="274.00" font-size="6.7" text-anchor="end" textLength="12.26" lengthAdjust="spacingAndGlyphs" style="stroke-width:0.06">70%</text>
<text x="25.45" y="287.38" font-size="6.7" text-anchor="end" textLength="12.29" lengthAdjust="spacingAndGlyphs" style="stroke-width:0.06">80%</text>
<text x="25.45" y="300.75" font-size="6.7" text-anchor="end" textLength="12.34" lengthAdjust="spacingAndGlyphs" style="stroke-width:0.06">90%</text>
<text x="25.45" y="314.12" font-size="6.7" text-anchor="end" textLength="15.83" lengthAdjust="spacingAndGlyphs" style="stroke-width:0.06">100%</text>
<text x="40.68" y="327.65" font-size="6.9" text-anchor="middle" textLength="12.51" lengthAdjust="spacingAndGlyphs" style="stroke-width:0.06">0-20</text>
<text x="61.34" y="327.65" font-size="6.9" text-anchor="middle" textLength="16.11" lengthAdjust="spacingAndGlyphs" style="stroke-width:0.06">20-50</text>
<text x="82.00" y="327.65" font-size="6.9" text-anchor="middle" textLength="15.92" lengthAdjust="spacingAndGlyphs" style="stroke-width:0.06">50-65</text>
<text x="102.66" y="327.65" font-size="6.9" text-anchor="middle" textLength="16.03" lengthAdjust="spacingAndGlyphs" style="stroke-width:0.06">65-75</text>
<text x="123.32" y="327.65" font-size="6.9" text-anchor="middle" textLength="11.46" lengthAdjust="spacingAndGlyphs" style="stroke-width:0.06">75+</text>
<text x="82.00" y="336.90" font-size="7.8" text-anchor="middle" textLength="38.73" lengthAdjust="spacingAndGlyphs" style="stroke-width:0.22">Age groups</text>
<text x="82.00" y="180.50" font-size="7.7" text-anchor="middle" textLength="34.71" lengthAdjust="spacing" style="stroke-width:0.24">VE = 60%</text>
<text x="16.00" y="181.80" font-size="8.4" font-weight="bold" style="fill:#000;stroke:#000;stroke-width:0.45">F</text>
<text x="0.00" y="0.00" font-size="7.2" text-anchor="middle" textLength="114.43" lengthAdjust="spacingAndGlyphs" transform="translate(5.4 251.45) rotate(-90)">Total vaccine coverage available</text>
<g shape-rendering="crispEdges"><rect x="169.50" y="184.50" width="20.00" height="13.00" fill="#f4f1e8"/><rect x="189.50" y="184.50" width="21.00" height="13.00" fill="#f4f1e8"/><rect x="210.50" y="184.50" width="21.00" height="13.00" fill="#f4f1e8"/><rect x="231.50" y="184.50" width="20.00" height="13.00" fill="#80bf90"/><rect x="251.50" y="184.50" width="21.00" height="13.00" fill="#3e5783"/><rect x="169.50" y="197.50" width="20.00" height="14.00" fill="#f4f1e8"/><rect x="189.50" y="197.50" width="21.00" height="14.00" fill="#f4f1e8"/><rect x="210.50" y="197.50" width="21.00" height="14.00" fill="#b4d3a2"/><rect x="231.50" y="197.50" width="20.00" height="14.00" fill="#3e5783"/><rect x="251.50" y="197.50" width="21.00" height="14.00" fill="#3e5783"/><rect x="169.50" y="211.50" width="20.00" height="13.00" fill="#f4f1e8"/><rect x="189.50" y="211.50" width="21.00" height="13.00" fill="#f4f1e8"/><rect x="210.50" y="211.50" width="21.00" height="13.00" fill="#3f6487"/><rect x="231.50" y="211.50" width="20.00" height="13.00" fill="#3e5783"/><rect x="251.50" y="211.50" width="21.00" height="13.00" fill="#3e5783"/><rect x="169.50" y="224.50" width="20.00" height="14.00" fill="#f4f1e8"/><rect x="189.50" y="224.50" width="21.00" height="14.00" fill="#bdd6a8"/><rect x="210.50" y="224.50" width="21.00" height="14.00" fill="#3e5783"/><rect x="231.50" y="224.50" width="20.00" height="14.00" fill="#3e5783"/><rect x="251.50" y="224.50" width="21.00" height="14.00" fill="#3e5783"/><rect x="169.50" y="238.50" width="20.00" height="13.00" fill="#3f6c8a"/><rect x="189.50" y="238.50" width="21.00" height="13.00" fill="#41768b"/><rect x="210.50" y="238.50" width="21.00" height="13.00" fill="#f4f1e8"/><rect x="231.50" y="238.50" width="20.00" height="13.00" fill="#f4f1e8"/><rect x="251.50" y="238.50" width="21.00" height="13.00" fill="#f4f1e8"/><rect x="169.50" y="251.50" width="20.00" height="13.00" fill="#3e5783"/><rect x="189.50" y="251.50" width="21.00" height="13.00" fill="#3e5783"/><rect x="210.50" y="251.50" width="21.00" height="13.00" fill="#c5d8ad"/><rect x="231.50" y="251.50" width="20.00" height="13.00" fill="#f4f1e8"/><rect x="251.50" y="251.50" width="21.00" height="13.00" fill="#f4f1e8"/><rect x="169.50" y="264.50" width="20.00" height="14.00" fill="#3e5783"/><rect x="189.50" y="264.50" width="21.00" height="14.00" fill="#3e5783"/><rect x="210.50" y="264.50" width="21.00" height="14.00" fill="#5faa8e"/><rect x="231.50" y="264.50" width="20.00" height="14.00" fill="#a0cb99"/><rect x="251.50" y="264.50" width="21.00" height="14.00" fill="#f4f1e8"/><rect x="169.50" y="278.50" width="20.00" height="13.00" fill="#3e5783"/><rect x="189.50" y="278.50" width="21.00" height="13.00" fill="#3e5783"/><rect x="210.50" y="278.50" width="21.00" height="13.00" fill="#3e5783"/><rect x="231.50" y="278.50" width="20.00" height="13.00" fill="#3f6c8a"/><rect x="251.50" y="278.50" width="21.00" height="13.00" fill="#f4f1e8"/><rect x="169.50" y="291.50" width="20.00" height="13.00" fill="#3c4879"/><rect x="189.50" y="291.50" width="21.00" height="13.00" fill="#3c4879"/><rect x="210.50" y="291.50" width="21.00" height="13.00" fill="#3c4879"/><rect x="231.50" y="291.50" width="20.00" height="13.00" fill="#3c4879"/><rect x="251.50" y="291.50" width="21.00" height="13.00" fill="#3c4879"/><rect x="169.50" y="304.50" width="20.00" height="14.00" fill="#3a3c6d"/><rect x="189.50" y="304.50" width="21.00" height="14.00" fill="#3e5c88"/><rect x="210.50" y="304.50" width="21.00" height="14.00" fill="#3a3c6d"/><rect x="231.50" y="304.50" width="20.00" height="14.00" fill="#3a3c6d"/><rect x="251.50" y="304.50" width="21.00" height="14.00" fill="#47888c"/></g>
<path d="M189.50 184.50V318.50M210.50 184.50V318.50M231.50 184.50V318.50M251.50 184.50V318.50M169.50 197.50H272.50M169.50 211.50H272.50M169.50 224.50H272.50M169.50 238.50H272.50M169.50 251.50H272.50M169.50 264.50H272.50M169.50 278.50H272.50M169.50 291.50H272.50M169.50 304.50H272.50" stroke="#fff" stroke-opacity="0.23" stroke-width="1" fill="none"/>
<rect x="169.50" y="184.50" width="103.00" height="134.00" fill="none" stroke="#333" stroke-width="1"/>
<path d="M166.90 191.28H169.30M166.90 204.66H169.30M166.90 218.02H169.30M166.90 231.39H169.30M166.90 244.76H169.30M166.90 258.13H169.30M166.90 271.50H169.30M166.90 284.88H169.30M166.90 298.25H169.30M166.90 311.62H169.30M179.63 318.30V320.70M200.29 318.30V320.70M220.95 318.30V320.70M241.61 318.30V320.70M262.27 318.30V320.70" stroke="#333" stroke-width="0.7" fill="none"/>
<text x="164.40" y="193.78" font-size="6.7" text-anchor="end" textLength="12.27" lengthAdjust="spacingAndGlyphs" style="stroke-width:0.06">10%</text>
<text x="164.40" y="207.16" font-size="6.7" text-anchor="end" textLength="12.30" lengthAdjust="spacingAndGlyphs" style="stroke-width:0.06">20%</text>
<text x="164.40" y="220.52" font-size="6.7" text-anchor="end" textLength="12.21" lengthAdjust="spacingAndGlyphs" style="stroke-width:0.06">30%</text>
<text x="164.40" y="233.89" font-size="6.7" text-anchor="end" textLength="12.26" lengthAdjust="spacingAndGlyphs" style="stroke-width:0.06">40%</text>
<text x="164.40" y="247.26" font-size="6.7" text-anchor="end" textLength="12.21" lengthAdjust="spacingAndGlyphs" style="stroke-width:0.06">50%</text>
<text x="164.40" y="260.63" font-size="6.7" text-anchor="end" textLength="12.33" lengthAdjust="spacingAndGlyphs" style="stroke-width:0.06">60%</text>
<text x="164.40" y="274.00" font-size="6.7" text-anchor="end" textLength="12.26" lengthAdjust="spacingAndGlyphs" style="stroke-width:0.06">70%</text>
<text x="164.40" y="287.38" font-size="6.7" text-anchor="end" textLength="12.29" lengthAdjust="spacingAndGlyphs" style="stroke-width:0.06">80%</text>
<text x="164.40" y="300.75" font-size="6.7" text-anchor="end" textLength="12.34" lengthAdjust="spacingAndGlyphs" style="stroke-width:0.06">90%</text>
<text x="164.40" y="314.12" font-size="6.7" text-anchor="end" textLength="15.83" lengthAdjust="spacingAndGlyphs" style="stroke-width:0.06">100%</text>
<text x="179.63" y="327.65" font-size="6.9" text-anchor="middle" textLength="12.51" lengthAdjust="spacingAndGlyphs" style="stroke-width:0.06">0-20</text>
<text x="200.29" y="327.65" font-size="6.9" text-anchor="middle" textLength="16.11" lengthAdjust="spacingAndGlyphs" style="stroke-width:0.06">20-50</text>
<text x="220.95" y="327.65" font-size="6.9" text-anchor="middle" textLength="15.92" lengthAdjust="spacingAndGlyphs" style="stroke-width:0.06">50-65</text>
<text x="241.61" y="327.65" font-size="6.9" text-anchor="middle" textLength="16.03" lengthAdjust="spacingAndGlyphs" style="stroke-width:0.06">65-75</text>
<text x="262.27" y="327.65" font-size="6.9" text-anchor="middle" textLength="11.46" lengthAdjust="spacingAndGlyphs" style="stroke-width:0.06">75+</text>
<text x="220.95" y="336.90" font-size="7.8" text-anchor="middle" textLength="38.73" lengthAdjust="spacingAndGlyphs" style="stroke-width:0.22">Age groups</text>
<text x="220.95" y="180.50" font-size="7.7" text-anchor="middle" textLength="34.71" lengthAdjust="spacing" style="stroke-width:0.24">VE = 70%</text>
<text x="158.00" y="181.80" font-size="8.4" font-weight="bold" style="fill:#000;stroke:#000;stroke-width:0.45">G</text>
<g shape-rendering="crispEdges"><rect x="308.50" y="184.50" width="20.00" height="13.00" fill="#f4f1e8"/><rect x="328.50" y="184.50" width="21.00" height="13.00" fill="#f4f1e8"/><rect x="349.50" y="184.50" width="21.00" height="13.00" fill="#f4f1e8"/><rect x="370.50" y="184.50" width="20.00" height="13.00" fill="#80bf90"/><rect x="390.50" y="184.50" width="21.00" height="13.00" fill="#3e5783"/><rect x="308.50" y="197.50" width="20.00" height="14.00" fill="#f4f1e8"/><rect x="328.50" y="197.50" width="21.00" height="14.00" fill="#f4f1e8"/><rect x="349.50" y="197.50" width="21.00" height="14.00" fill="#b4d3a2"/><rect x="370.50" y="197.50" width="20.00" height="14.00" fill="#3e5783"/><rect x="390.50" y="197.50" width="21.00" height="14.00" fill="#3e5783"/><rect x="308.50" y="211.50" width="20.00" height="13.00" fill="#f4f1e8"/><rect x="328.50" y="211.50" width="21.00" height="13.00" fill="#f4f1e8"/><rect x="349.50" y="211.50" width="21.00" height="13.00" fill="#3f6487"/><rect x="370.50" y="211.50" width="20.00" height="13.00" fill="#3e5783"/><rect x="390.50" y="211.50" width="21.00" height="13.00" fill="#3e5783"/><rect x="308.50" y="224.50" width="20.00" height="14.00" fill="#f4f1e8"/><rect x="328.50" y="224.50" width="21.00" height="14.00" fill="#bdd6a8"/><rect x="349.50" y="224.50" width="21.00" height="14.00" fill="#3e5783"/><rect x="370.50" y="224.50" width="20.00" height="14.00" fill="#3e5783"/><rect x="390.50" y="224.50" width="21.00" height="14.00" fill="#3e5783"/><rect x="308.50" y="238.50" width="20.00" height="13.00" fill="#437e8c"/><rect x="328.50" y="238.50" width="21.00" height="13.00" fill="#3f6c8a"/><rect x="349.50" y="238.50" width="21.00" height="13.00" fill="#f4f1e8"/><rect x="370.50" y="238.50" width="20.00" height="13.00" fill="#f4f1e8"/><rect x="390.50" y="238.50" width="21.00" height="13.00" fill="#f4f1e8"/><rect x="308.50" y="251.50" width="20.00" height="13.00" fill="#3f6c8a"/><rect x="328.50" y="251.50" width="21.00" height="13.00" fill="#3e5783"/><rect x="349.50" y="251.50" width="21.00" height="13.00" fill="#a0cb99"/><rect x="370.50" y="251.50" width="20.00" height="13.00" fill="#f4f1e8"/><rect x="390.50" y="251.50" width="21.00" height="13.00" fill="#f4f1e8"/><rect x="308.50" y="264.50" width="20.00" height="14.00" fill="#3f6c8a"/><rect x="328.50" y="264.50" width="21.00" height="14.00" fill="#3e5783"/><rect x="349.50" y="264.50" width="21.00" height="14.00" fill="#a0cb99"/><rect x="370.50" y="264.50" width="20.00" height="14.00" fill="#437e8c"/><rect x="390.50" y="264.50" width="21.00" height="14.00" fill="#f4f1e8"/><rect x="308.50" y="278.50" width="20.00" height="13.00" fill="#3f6c8a"/><rect x="328.50" y="278.50" width="21.00" height="13.00" fill="#47888c"/><rect x="349.50" y="278.50" width="21.00" height="13.00" fill="#3f6c8a"/><rect x="370.50" y="278.50" width="20.00" height="13.00" fill="#3f6c8a"/><rect x="390.50" y="278.50" width="21.00" height="13.00" fill="#3a3c6d"/><rect x="308.50" y="291.50" width="20.00" height="13.00" fill="#3c4879"/><rect x="328.50" y="291.50" width="21.00" height="13.00" fill="#3c4879"/><rect x="349.50" y="291.50" width="21.00" height="13.00" fill="#3c4879"/><rect x="370.50" y="291.50" width="20.00" height="13.00" fill="#3c4879"/><rect x="390.50" y="291.50" width="21.00" height="13.00" fill="#4c918d"/><rect x="308.50" y="304.50" width="20.00" height="14.00" fill="#3a3c6d"/><rect x="328.50" y="304.50" width="21.00" height="14.00" fill="#3f6487"/><rect x="349.50" y="304.50" width="21.00" height="14.00" fill="#3a3c6d"/><rect x="370.50" y="304.50" width="20.00" height="14.00" fill="#3a3c6d"/><rect x="390.50" y="304.50" width="21.00" height="14.00" fill="#437e8c"/></g>
<path d="M328.50 184.50V318.50M349.50 184.50V318.50M370.50 184.50V318.50M390.50 184.50V318.50M308.50 197.50H411.50M308.50 211.50H411.50M308.50 224.50H411.50M308.50 238.50H411.50M308.50 251.50H411.50M308.50 264.50H411.50M308.50 278.50H411.50M308.50 291.50H411.50M308.50 304.50H411.50" stroke="#fff" stroke-opacity="0.23" stroke-width="1" fill="none"/>
<rect x="308.50" y="184.50" width="103.00" height="134.00" fill="none" stroke="#333" stroke-width="1"/>
<path d="M305.85 191.28H308.25M305.85 204.66H308.25M305.85 218.02H308.25M305.85 231.39H308.25M305.85 244.76H308.25M305.85 258.13H308.25M305.85 271.50H308.25M305.85 284.88H308.25M305.85 298.25H308.25M305.85 311.62H308.25M318.58 318.30V320.70M339.24 318.30V320.70M359.90 318.30V320.70M380.56 318.30V320.70M401.22 318.30V320.70" stroke="#333" stroke-width="0.7" fill="none"/>
<text x="303.35" y="193.78" font-size="6.7" text-anchor="end" textLength="12.27" lengthAdjust="spacingAndGlyphs" style="stroke-width:0.06">10%</text>
<text x="303.35" y="207.16" font-size="6.7" text-anchor="end" textLength="12.30" lengthAdjust="spacingAndGlyphs" style="stroke-width:0.06">20%</text>
<text x="303.35" y="220.52" font-size="6.7" text-anchor="end" textLength="12.21" lengthAdjust="spacingAndGlyphs" style="stroke-width:0.06">30%</text>
<text x="303.35" y="233.89" font-size="6.7" text-anchor="end" textLength="12.26" lengthAdjust="spacingAndGlyphs" style="stroke-width:0.06">40%</text>
<text x="303.35" y="247.26" font-size="6.7" text-anchor="end" textLength="12.21" lengthAdjust="spacingAndGlyphs" style="stroke-width:0.06">50%</text>
<text x="303.35" y="260.63" font-size="6.7" text-anchor="end" textLength="12.33" lengthAdjust="spacingAndGlyphs" style="stroke-width:0.06">60%</text>
<text x="303.35" y="274.00" font-size="6.7" text-anchor="end" textLength="12.26" lengthAdjust="spacingAndGlyphs" style="stroke-width:0.06">70%</text>
<text x="303.35" y="287.38" font-size="6.7" text-anchor="end" textLength="12.29" lengthAdjust="spacingAndGlyphs" style="stroke-width:0.06">80%</text>
<text x="303.35" y="300.75" font-size="6.7" text-anchor="end" textLength="12.34" lengthAdjust="spacingAndGlyphs" style="stroke-width:0.06">90%</text>
<text x="303.35" y="314.12" font-size="6.7" text-anchor="end" textLength="15.83" lengthAdjust="spacingAndGlyphs" style="stroke-width:0.06">100%</text>
<text x="318.58" y="327.65" font-size="6.9" text-anchor="middle" textLength="12.51" lengthAdjust="spacingAndGlyphs" style="stroke-width:0.06">0-20</text>
<text x="339.24" y="327.65" font-size="6.9" text-anchor="middle" textLength="16.11" lengthAdjust="spacingAndGlyphs" style="stroke-width:0.06">20-50</text>
<text x="359.90" y="327.65" font-size="6.9" text-anchor="middle" textLength="15.92" lengthAdjust="spacingAndGlyphs" style="stroke-width:0.06">50-65</text>
<text x="380.56" y="327.65" font-size="6.9" text-anchor="middle" textLength="16.03" lengthAdjust="spacingAndGlyphs" style="stroke-width:0.06">65-75</text>
<text x="401.22" y="327.65" font-size="6.9" text-anchor="middle" textLength="11.46" lengthAdjust="spacingAndGlyphs" style="stroke-width:0.06">75+</text>
<text x="359.90" y="336.90" font-size="7.8" text-anchor="middle" textLength="38.73" lengthAdjust="spacingAndGlyphs" style="stroke-width:0.22">Age groups</text>
<text x="359.90" y="180.50" font-size="7.7" text-anchor="middle" textLength="34.71" lengthAdjust="spacing" style="stroke-width:0.24">VE = 80%</text>
<text x="293.40" y="181.80" font-size="8.4" font-weight="bold" style="fill:#000;stroke:#000;stroke-width:0.45">H</text>
<g shape-rendering="crispEdges"><rect x="447.50" y="184.50" width="20.00" height="13.00" fill="#f4f1e8"/><rect x="467.50" y="184.50" width="21.00" height="13.00" fill="#f4f1e8"/><rect x="488.50" y="184.50" width="21.00" height="13.00" fill="#f4f1e8"/><rect x="509.50" y="184.50" width="20.00" height="13.00" fill="#80bf90"/><rect x="529.50" y="184.50" width="21.00" height="13.00" fill="#3e5783"/><rect x="447.50" y="197.50" width="20.00" height="14.00" fill="#f4f1e8"/><rect x="467.50" y="197.50" width="21.00" height="14.00" fill="#f4f1e8"/><rect x="488.50" y="197.50" width="21.00" height="14.00" fill="#b4d3a2"/><rect x="509.50" y="197.50" width="20.00" height="14.00" fill="#3e5783"/><rect x="529.50" y="197.50" width="21.00" height="14.00" fill="#3e5783"/><rect x="447.50" y="211.50" width="20.00" height="13.00" fill="#f4f1e8"/><rect x="467.50" y="211.50" width="21.00" height="13.00" fill="#f4f1e8"/><rect x="488.50" y="211.50" width="21.00" height="13.00" fill="#3f6487"/><rect x="509.50" y="211.50" width="20.00" height="13.00" fill="#3e5783"/><rect x="529.50" y="211.50" width="21.00" height="13.00" fill="#3e5783"/><rect x="447.50" y="224.50" width="20.00" height="14.00" fill="#56a08e"/><rect x="467.50" y="224.50" width="21.00" height="14.00" fill="#56a08e"/><rect x="488.50" y="224.50" width="21.00" height="14.00" fill="#f4f1e8"/><rect x="509.50" y="224.50" width="20.00" height="14.00" fill="#f4f1e8"/><rect x="529.50" y="224.50" width="21.00" height="14.00" fill="#f4f1e8"/><rect x="447.50" y="238.50" width="20.00" height="13.00" fill="#47888c"/><rect x="467.50" y="238.50" width="21.00" height="13.00" fill="#3f6c8a"/><rect x="488.50" y="238.50" width="21.00" height="13.00" fill="#f4f1e8"/><rect x="509.50" y="238.50" width="20.00" height="13.00" fill="#f4f1e8"/><rect x="529.50" y="238.50" width="21.00" height="13.00" fill="#f4f1e8"/><rect x="447.50" y="251.50" width="20.00" height="13.00" fill="#47888c"/><rect x="467.50" y="251.50" width="21.00" height="13.00" fill="#41768b"/><rect x="488.50" y="251.50" width="21.00" height="13.00" fill="#a0cb99"/><rect x="509.50" y="251.50" width="20.00" height="13.00" fill="#509a8e"/><rect x="529.50" y="251.50" width="21.00" height="13.00" fill="#f4f1e8"/><rect x="447.50" y="264.50" width="20.00" height="14.00" fill="#47888c"/><rect x="467.50" y="264.50" width="21.00" height="14.00" fill="#56a08e"/><rect x="488.50" y="264.50" width="21.00" height="14.00" fill="#41768b"/><rect x="509.50" y="264.50" width="20.00" height="14.00" fill="#47888c"/><rect x="529.50" y="264.50" width="21.00" height="14.00" fill="#3a3c6d"/><rect x="447.50" y="278.50" width="20.00" height="13.00" fill="#3f6c8a"/><rect x="467.50" y="278.50" width="21.00" height="13.00" fill="#47888c"/><rect x="488.50" y="278.50" width="21.00" height="13.00" fill="#3f6c8a"/><rect x="509.50" y="278.50" width="20.00" height="13.00" fill="#437e8c"/><rect x="529.50" y="278.50" width="21.00" height="13.00" fill="#3a3c6d"/><rect x="447.50" y="291.50" width="20.00" height="13.00" fill="#47888c"/><rect x="467.50" y="291.50" width="21.00" height="13.00" fill="#3c4879"/><rect x="488.50" y="291.50" width="21.00" height="13.00" fill="#3c4879"/><rect x="509.50" y="291.50" width="20.00" height="13.00" fill="#3c4879"/><rect x="529.50" y="291.50" width="21.00" height="13.00" fill="#3a3c6d"/><rect x="447.50" y="304.50" width="20.00" height="14.00" fill="#5faa8e"/><rect x="467.50" y="304.50" width="21.00" height="14.00" fill="#3a3c6d"/><rect x="488.50" y="304.50" width="21.00" height="14.00" fill="#3a3c6d"/><rect x="509.50" y="304.50" width="20.00" height="14.00" fill="#3a3c6d"/><rect x="529.50" y="304.50" width="21.00" height="14.00" fill="#3a3c6d"/></g>
<path d="M467.50 184.50V318.50M488.50 184.50V318.50M509.50 184.50V318.50M529.50 184.50V318.50M447.50 197.50H550.50M447.50 211.50H550.50M447.50 224.50H550.50M447.50 238.50H550.50M447.50 251.50H550.50M447.50 264.50H550.50M447.50 278.50H550.50M447.50 291.50H550.50M447.50 304.50H550.50" stroke="#fff" stroke-opacity="0.23" stroke-width="1" fill="none"/>
<rect x="447.50" y="184.50" width="103.00" height="134.00" fill="none" stroke="#333" stroke-width="1"/>
<path d="M444.80 191.28H447.20M444.80 204.66H447.20M444.80 218.02H447.20M444.80 231.39H447.20M444.80 244.76H447.20M444.80 258.13H447.20M444.80 271.50H447.20M444.80 284.88H447.20M444.80 298.25H447.20M444.80 311.62H447.20M457.53 318.30V320.70M478.19 318.30V320.70M498.85 318.30V320.70M519.51 318.30V320.70M540.17 318.30V320.70" stroke="#333" stroke-width="0.7" fill="none"/>
<text x="442.30" y="193.78" font-size="6.7" text-anchor="end" textLength="12.27" lengthAdjust="spacingAndGlyphs" style="stroke-width:0.06">10%</text>
<text x="442.30" y="207.16" font-size="6.7" text-anchor="end" textLength="12.30" lengthAdjust="spacingAndGlyphs" style="stroke-width:0.06">20%</text>
<text x="442.30" y="220.52" font-size="6.7" text-anchor="end" textLength="12.21" lengthAdjust="spacingAndGlyphs" style="stroke-width:0.06">30%</text>
<text x="442.30" y="233.89" font-size="6.7" text-anchor="end" textLength="12.26" lengthAdjust="spacingAndGlyphs" style="stroke-width:0.06">40%</text>
<text x="442.30" y="247.26" font-size="6.7" text-anchor="end" textLength="12.21" lengthAdjust="spacingAndGlyphs" style="stroke-width:0.06">50%</text>
<text x="442.30" y="260.63" font-size="6.7" text-anchor="end" textLength="12.33" lengthAdjust="spacingAndGlyphs" style="stroke-width:0.06">60%</text>
<text x="442.30" y="274.00" font-size="6.7" text-anchor="end" textLength="12.26" lengthAdjust="spacingAndGlyphs" style="stroke-width:0.06">70%</text>
<text x="442.30" y="287.38" font-size="6.7" text-anchor="end" textLength="12.29" lengthAdjust="spacingAndGlyphs" style="stroke-width:0.06">80%</text>
<text x="442.30" y="300.75" font-size="6.7" text-anchor="end" textLength="12.34" lengthAdjust="spacingAndGlyphs" style="stroke-width:0.06">90%</text>
<text x="442.30" y="314.12" font-size="6.7" text-anchor="end" textLength="15.83" lengthAdjust="spacingAndGlyphs" style="stroke-width:0.06">100%</text>
<text x="457.53" y="327.65" font-size="6.9" text-anchor="middle" textLength="12.51" lengthAdjust="spacingAndGlyphs" style="stroke-width:0.06">0-20</text>
<text x="478.19" y="327.65" font-size="6.9" text-anchor="middle" textLength="16.11" lengthAdjust="spacingAndGlyphs" style="stroke-width:0.06">20-50</text>
<text x="498.85" y="327.65" font-size="6.9" text-anchor="middle" textLength="15.92" lengthAdjust="spacingAndGlyphs" style="stroke-width:0.06">50-65</text>
<text x="519.51" y="327.65" font-size="6.9" text-anchor="middle" textLength="16.03" lengthAdjust="spacingAndGlyphs" style="stroke-width:0.06">65-75</text>
<text x="540.17" y="327.65" font-size="6.9" text-anchor="middle" textLength="11.46" lengthAdjust="spacingAndGlyphs" style="stroke-width:0.06">75+</text>
<text x="498.85" y="336.90" font-size="7.8" text-anchor="middle" textLength="38.73" lengthAdjust="spacingAndGlyphs" style="stroke-width:0.22">Age groups</text>
<text x="498.85" y="180.50" font-size="7.7" text-anchor="middle" textLength="34.71" lengthAdjust="spacing" style="stroke-width:0.24">VE = 90%</text>
<text x="435.70" y="181.80" font-size="8.4" font-weight="bold" style="fill:#000;stroke:#000;stroke-width:0.45">I</text>
<g shape-rendering="crispEdges"><rect x="586.50" y="184.50" width="20.00" height="13.00" fill="#f4f1e8"/><rect x="606.50" y="184.50" width="21.00" height="13.00" fill="#f4f1e8"/><rect x="627.50" y="184.50" width="21.00" height="13.00" fill="#f4f1e8"/><rect x="648.50" y="184.50" width="20.00" height="13.00" fill="#80bf90"/><rect x="668.50" y="184.50" width="21.00" height="13.00" fill="#3e5783"/><rect x="586.50" y="197.50" width="20.00" height="14.00" fill="#f4f1e8"/><rect x="606.50" y="197.50" width="21.00" height="14.00" fill="#f4f1e8"/><rect x="627.50" y="197.50" width="21.00" height="14.00" fill="#b4d3a2"/><rect x="648.50" y="197.50" width="20.00" height="14.00" fill="#3e5783"/><rect x="668.50" y="197.50" width="21.00" height="14.00" fill="#3e5783"/><rect x="586.50" y="211.50" width="20.00" height="13.00" fill="#f4f1e8"/><rect x="606.50" y="211.50" width="21.00" height="13.00" fill="#f4f1e8"/><rect x="627.50" y="211.50" width="21.00" height="13.00" fill="#3f6487"/><rect x="648.50" y="211.50" width="20.00" height="13.00" fill="#3e5783"/><rect x="668.50" y="211.50" width="21.00" height="13.00" fill="#3e5783"/><rect x="586.50" y="224.50" width="20.00" height="14.00" fill="#56a08e"/><rect x="606.50" y="224.50" width="21.00" height="14.00" fill="#509a8e"/><rect x="627.50" y="224.50" width="21.00" height="14.00" fill="#f4f1e8"/><rect x="648.50" y="224.50" width="20.00" height="14.00" fill="#f4f1e8"/><rect x="668.50" y="224.50" width="21.00" height="14.00" fill="#f4f1e8"/><rect x="586.50" y="238.50" width="20.00" height="13.00" fill="#509a8e"/><rect x="606.50" y="238.50" width="21.00" height="13.00" fill="#3f6c8a"/><rect x="627.50" y="238.50" width="21.00" height="13.00" fill="#e0e2c8"/><rect x="648.50" y="238.50" width="20.00" height="13.00" fill="#b4d3a2"/><rect x="668.50" y="238.50" width="21.00" height="13.00" fill="#f4f1e8"/><rect x="586.50" y="251.50" width="20.00" height="13.00" fill="#56a08e"/><rect x="606.50" y="251.50" width="21.00" height="13.00" fill="#56a08e"/><rect x="627.50" y="251.50" width="21.00" height="13.00" fill="#a0cb99"/><rect x="648.50" y="251.50" width="20.00" height="13.00" fill="#3b4376"/><rect x="668.50" y="251.50" width="21.00" height="13.00" fill="#3e5783"/><rect x="586.50" y="264.50" width="20.00" height="14.00" fill="#56a08e"/><rect x="606.50" y="264.50" width="21.00" height="14.00" fill="#56a08e"/><rect x="627.50" y="264.50" width="21.00" height="14.00" fill="#437e8c"/><rect x="648.50" y="264.50" width="20.00" height="14.00" fill="#3a3c6d"/><rect x="668.50" y="264.50" width="21.00" height="14.00" fill="#3a3c6d"/><rect x="586.50" y="278.50" width="20.00" height="13.00" fill="#80bf90"/><rect x="606.50" y="278.50" width="21.00" height="13.00" fill="#3c4879"/><rect x="627.50" y="278.50" width="21.00" height="13.00" fill="#3f6c8a"/><rect x="648.50" y="278.50" width="20.00" height="13.00" fill="#3f6c8a"/><rect x="668.50" y="278.50" width="21.00" height="13.00" fill="#3a3c6d"/><rect x="586.50" y="291.50" width="20.00" height="13.00" fill="#3a3c6d"/><rect x="606.50" y="291.50" width="21.00" height="13.00" fill="#5faa8e"/><rect x="627.50" y="291.50" width="21.00" height="13.00" fill="#3c4879"/><rect x="648.50" y="291.50" width="20.00" height="13.00" fill="#3a3c6d"/><rect x="668.50" y="291.50" width="21.00" height="13.00" fill="#3a3c6d"/><rect x="586.50" y="304.50" width="20.00" height="14.00" fill="#3f6c8a"/><rect x="606.50" y="304.50" width="21.00" height="14.00" fill="#3e5783"/><rect x="627.50" y="304.50" width="21.00" height="14.00" fill="#3a3c6d"/><rect x="648.50" y="304.50" width="20.00" height="14.00" fill="#3a3c6d"/><rect x="668.50" y="304.50" width="21.00" height="14.00" fill="#47888c"/></g>
<path d="M606.50 184.50V318.50M627.50 184.50V318.50M648.50 184.50V318.50M668.50 184.50V318.50M586.50 197.50H689.50M586.50 211.50H689.50M586.50 224.50H689.50M586.50 238.50H689.50M586.50 251.50H689.50M586.50 264.50H689.50M586.50 278.50H689.50M586.50 291.50H689.50M586.50 304.50H689.50" stroke="#fff" stroke-opacity="0.23" stroke-width="1" fill="none"/>
<rect x="586.50" y="184.50" width="103.00" height="134.00" fill="none" stroke="#333" stroke-width="1"/>
<path d="M583.75 191.28H586.15M583.75 204.66H586.15M583.75 218.02H586.15M583.75 231.39H586.15M583.75 244.76H586.15M583.75 258.13H586.15M583.75 271.50H586.15M583.75 284.88H586.15M583.75 298.25H586.15M583.75 311.62H586.15M596.48 318.30V320.70M617.14 318.30V320.70M637.80 318.30V320.70M658.46 318.30V320.70M679.12 318.30V320.70" stroke="#333" stroke-width="0.7" fill="none"/>
<text x="581.25" y="193.78" font-size="6.7" text-anchor="end" textLength="12.27" lengthAdjust="spacingAndGlyphs" style="stroke-width:0.06">10%</text>
<text x="581.25" y="207.16" font-size="6.7" text-anchor="end" textLength="12.30" lengthAdjust="spacingAndGlyphs" style="stroke-width:0.06">20%</text>
<text x="581.25" y="220.52" font-size="6.7" text-anchor="end" textLength="12.21" lengthAdjust="spacingAndGlyphs" style="stroke-width:0.06">30%</text>
<text x="581.25" y="233.89" font-size="6.7" text-anchor="end" textLength="12.26" lengthAdjust="spacingAndGlyphs" style="stroke-width:0.06">40%</text>
<text x="581.25" y="247.26" font-size="6.7" text-anchor="end" textLength="12.21" lengthAdjust="spacingAndGlyphs" style="stroke-width:0.06">50%</text>
<text x="581.25" y="260.63" font-size="6.7" text-anchor="end" textLength="12.33" lengthAdjust="spacingAndGlyphs" style="stroke-width:0.06">60%</text>
<text x="581.25" y="274.00" font-size="6.7" text-anchor="end" textLength="12.26" lengthAdjust="spacingAndGlyphs" style="stroke-width:0.06">70%</text>
<text x="581.25" y="287.38" font-size="6.7" text-anchor="end" textLength="12.29" lengthAdjust="spacingAndGlyphs" style="stroke-width:0.06">80%</text>
<text x="581.25" y="300.75" font-size="6.7" text-anchor="end" textLength="12.34" lengthAdjust="spacingAndGlyphs" style="stroke-width:0.06">90%</text>
<text x="581.25" y="314.12" font-size="6.7" text-anchor="end" textLength="15.83" lengthAdjust="spacingAndGlyphs" style="stroke-width:0.06">100%</text>
<text x="596.48" y="327.65" font-size="6.9" text-anchor="middle" textLength="12.51" lengthAdjust="spacingAndGlyphs" style="stroke-width:0.06">0-20</text>
<text x="617.14" y="327.65" font-size="6.9" text-anchor="middle" textLength="16.11" lengthAdjust="spacingAndGlyphs" style="stroke-width:0.06">20-50</text>
<text x="637.80" y="327.65" font-size="6.9" text-anchor="middle" textLength="15.92" lengthAdjust="spacingAndGlyphs" style="stroke-width:0.06">50-65</text>
<text x="658.46" y="327.65" font-size="6.9" text-anchor="middle" textLength="16.03" lengthAdjust="spacingAndGlyphs" style="stroke-width:0.06">65-75</text>
<text x="679.12" y="327.65" font-size="6.9" text-anchor="middle" textLength="11.46" lengthAdjust="spacingAndGlyphs" style="stroke-width:0.06">75+</text>
<text x="637.80" y="336.90" font-size="7.8" text-anchor="middle" textLength="38.73" lengthAdjust="spacingAndGlyphs" style="stroke-width:0.22">Age groups</text>
<text x="637.80" y="180.50" font-size="7.7" text-anchor="middle" textLength="39.13" lengthAdjust="spacing" style="stroke-width:0.24">VE = 100%</text>
<text x="576.50" y="181.80" font-size="8.4" font-weight="bold" style="fill:#000;stroke:#000;stroke-width:0.45">J</text>
<defs><linearGradient id="cb" x1="0" y1="0" x2="1" y2="0"><stop offset="0.0000" stop-color="#f4f1e8"/><stop offset="0.0500" stop-color="#f4f1e8"/><stop offset="0.0500" stop-color="#edebd9"/><stop offset="0.1000" stop-color="#edebd9"/><stop offset="0.1000" stop-color="#e0e2c8"/><stop offset="0.1500" stop-color="#e0e2c8"/><stop offset="0.1500" stop-color="#d2dcb6"/><stop offset="0.2000" stop-color="#d2dcb6"/><stop offset="0.2000" stop-color="#c5d8ad"/><stop offset="0.2500" stop-color="#c5d8ad"/><stop offset="0.2500" stop-color="#b4d3a2"/><stop offset="0.3000" stop-color="#b4d3a2"/><stop offset="0.3000" stop-color="#a0cb99"/><stop offset="0.3500" stop-color="#a0cb99"/><stop offset="0.3500" stop-color="#8fc692"/><stop offset="0.4000" stop-color="#8fc692"/><stop offset="0.4000" stop-color="#80bf90"/><stop offset="0.4500" stop-color="#80bf90"/><stop offset="0.4500" stop-color="#6fb38c"/><stop offset="0.5000" stop-color="#6fb38c"/><stop offset="0.5000" stop-color="#5faa8e"/><stop offset="0.5500" stop-color="#5faa8e"/><stop offset="0.5500" stop-color="#56a08e"/><stop offset="0.6000" stop-color="#56a08e"/><stop offset="0.6000" stop-color="#509a8e"/><stop offset="0.6500" stop-color="#509a8e"/><stop offset="0.6500" stop-color="#47888c"/><stop offset="0.7000" stop-color="#47888c"/><stop offset="0.7000" stop-color="#437e8c"/><stop offset="0.7500" stop-color="#437e8c"/><stop offset="0.7500" stop-color="#3f6c8a"/><stop offset="0.8000" stop-color="#3f6c8a"/><stop offset="0.8000" stop-color="#3f6487"/><stop offset="0.8500" stop-color="#3f6487"/><stop offset="0.8500" stop-color="#3e5783"/><stop offset="0.9000" stop-color="#3e5783"/><stop offset="0.9000" stop-color="#3c4879"/><stop offset="0.9500" stop-color="#3c4879"/><stop offset="0.9500" stop-color="#3a3c6d"/><stop offset="1.0000" stop-color="#3a3c6d"/></linearGradient></defs>
<rect x="277.30" y="350.7" width="149.90" height="7.35" fill="url(#cb)"/>
<text x="277.30" y="368.90" font-size="7.6" text-anchor="middle" textLength="4.10" lengthAdjust="spacingAndGlyphs" style="stroke-width:0.06">0</text>
<text x="307.28" y="368.90" font-size="7.6" text-anchor="middle" textLength="8.55" lengthAdjust="spacingAndGlyphs" style="stroke-width:0.06">20</text>
<text x="337.26" y="368.90" font-size="7.6" text-anchor="middle" textLength="8.51" lengthAdjust="spacingAndGlyphs" style="stroke-width:0.06">40</text>
<text x="367.24" y="368.90" font-size="7.6" text-anchor="middle" textLength="8.58" lengthAdjust="spacingAndGlyphs" style="stroke-width:0.06">60</text>
<text x="397.22" y="368.90" font-size="7.6" text-anchor="middle" textLength="8.54" lengthAdjust="spacingAndGlyphs" style="stroke-width:0.06">80</text>
<text x="427.20" y="368.90" font-size="7.6" text-anchor="middle" textLength="12.92" lengthAdjust="spacingAndGlyphs" style="stroke-width:0.06">100</text>
<path d="M277.30 358.05V360.85M307.28 358.05V360.85M337.26 358.05V360.85M367.24 358.05V360.85M397.22 358.05V360.85M427.20 358.05V360.85" stroke="#333" stroke-width="0.7" fill="none"/>
<text x="352.70" y="374.50" font-size="7.1" text-anchor="middle" textLength="165.12" lengthAdjust="spacingAndGlyphs" style="stroke-width:0.08">Percentage of each age group to be vaccinated</text>
</svg></body></html>
